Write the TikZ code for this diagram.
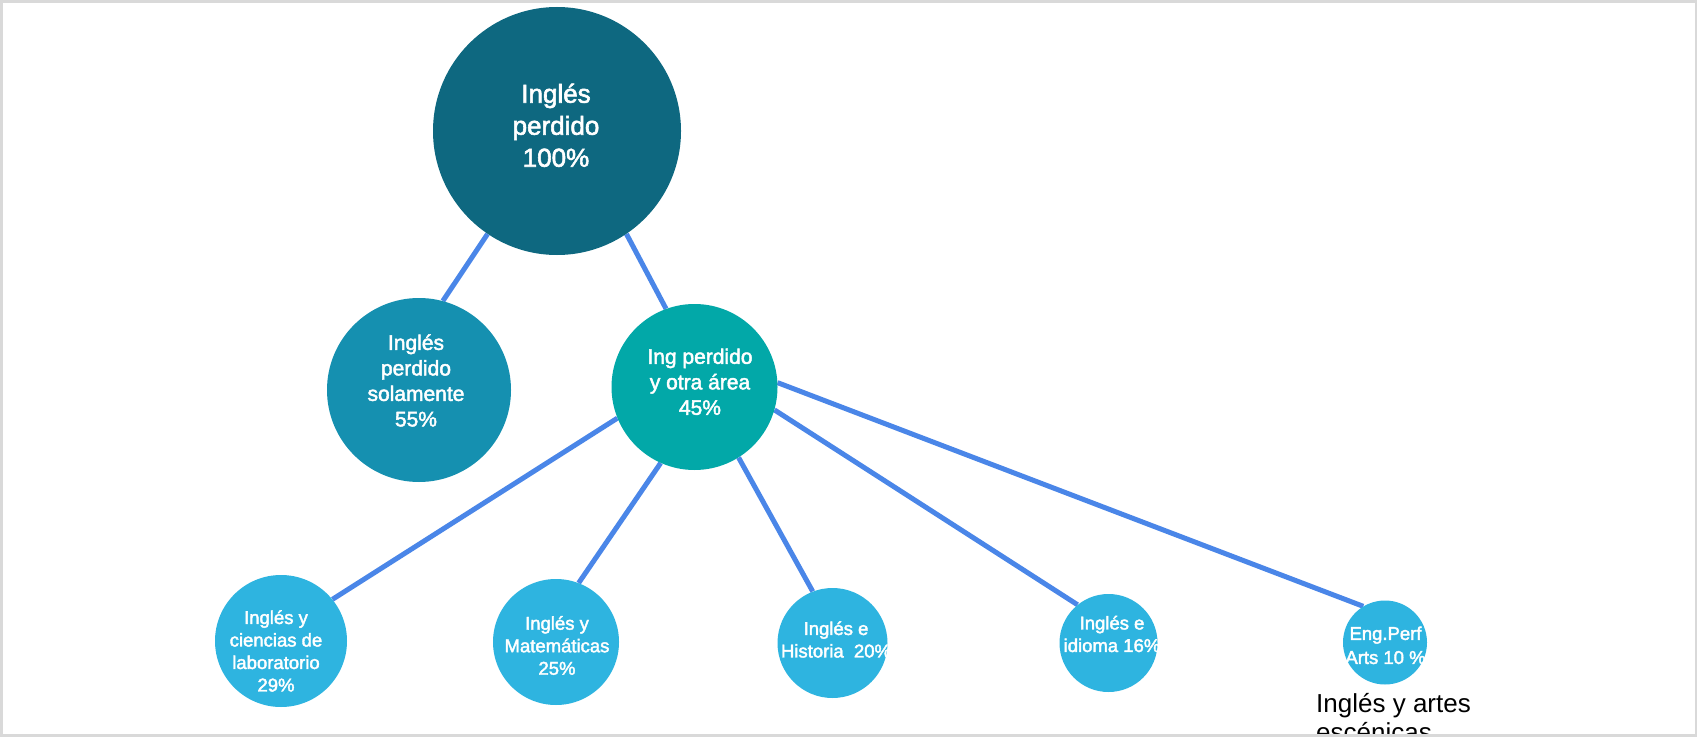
\documentclass[tikz,border=0pt]{standalone}
\usepackage{fontspec}
\setmainfont{Liberation Sans}
\newfontfamily\lblfont{Liberation Sans}[FakeBold=2.2]
\usetikzlibrary{backgrounds}
\definecolor{cTop}{HTML}{0E6880}
\definecolor{cSol}{HTML}{1590B0}
\definecolor{cIng}{HTML}{02A8A8}
\definecolor{cLeaf}{HTML}{2EB4E0}
\definecolor{cLine}{HTML}{4A86E8}
\definecolor{cFrame}{HTML}{D9D9D9}
\begin{document}
\begin{tikzpicture}[x=1pt,y=-1pt,
  bubble/.style={circle,inner sep=0pt,draw=none},
  lbl/.style={text=white,align=center,inner sep=0pt},
  bigtxt/.style={font=\lblfont\fontsize{26}{32}\selectfont},
  midtxt/.style={font=\lblfont\fontsize{21}{25.5}\selectfont},
  smalltxt/.style={font=\lblfont\fontsize{18.5}{22.5}\selectfont},
  link/.style={draw=cLine,line width=5pt}]
\useasboundingbox (0,0) rectangle (1697,738);

% circles
\node[bubble,fill=cTop,minimum size=248pt] (top) at (557,131) {};
\node[bubble,fill=cSol,minimum size=184pt] (sol) at (419,390) {};
\node[bubble,fill=cIng,minimum size=166pt] (ing) at (694.5,387) {};
\node[bubble,fill=cLeaf,minimum size=132pt] (lab) at (281,641) {};
\node[bubble,fill=cLeaf,minimum size=126pt] (mat) at (556,642) {};
\node[bubble,fill=cLeaf,minimum size=110pt] (hist) at (832.5,643) {};
\node[bubble,fill=cLeaf,minimum size=98pt] (idi) at (1108.5,643) {};
\node[bubble,fill=cLeaf,minimum size=84pt] (perf) at (1385,642.5) {};

% labels
\node[lbl,bigtxt] (ttop) at (556,125.3) {Inglés\\perdido\\100\%};
\node[lbl,midtxt] (tsol) at (416,380.5) {Inglés\\perdido\\solamente\\55\%};
\node[lbl,midtxt] (ting) at (700,381.8) {Ing perdido\\y otra área\\45\%};
\node[lbl,smalltxt] (tlab) at (276,651) {Inglés y\\ciencias de\\laboratorio\\29\%};
\node[lbl,smalltxt] (tmat) at (557,645.5) {Inglés y\\Matemáticas\\25\%};
\node[lbl,smalltxt] (thist) at (836,639.5) {Inglés e\\Historia\ \ 20\%};
\node[lbl,smalltxt] (tidi) at (1112,634) {Inglés e\\idioma 16\%};
\node[lbl,font=\lblfont\fontsize{18.5}{24}\selectfont] (tperf) at (1385.5,645.3) {Eng.Perf\\Arts 10 \%};

\begin{scope}
  \clip (0,0) rectangle (1697,734);
  \node[inner sep=0pt,align=left,anchor=west,font=\fontsize{26}{29}\selectfont] (tnote) at (1316,717.5) {Inglés y artes\\escénicas};
\end{scope}

% connectors and background
\begin{scope}[on background layer]
  \fill[white] (0,0) rectangle (1697,738);
  \draw[link] (top.236) -- (sol.75);
  \draw[link] (top.304) -- (ing.110.5);
  \draw[link] (ing.202) -- (lab.39);
  \draw[link] (ing.246) -- (mat.69);
  \draw[link] (ing.302.6) -- (hist.111);
  \draw[link] (ing.344.4) -- (idi.129.7);
  \draw[link] (ing.3.3) -- (perf.121.3);
\end{scope}

% frame
\draw[cFrame,line width=2.5pt] (1.5,1.5) rectangle (1695.8,735.3);
\end{tikzpicture}
\end{document}
